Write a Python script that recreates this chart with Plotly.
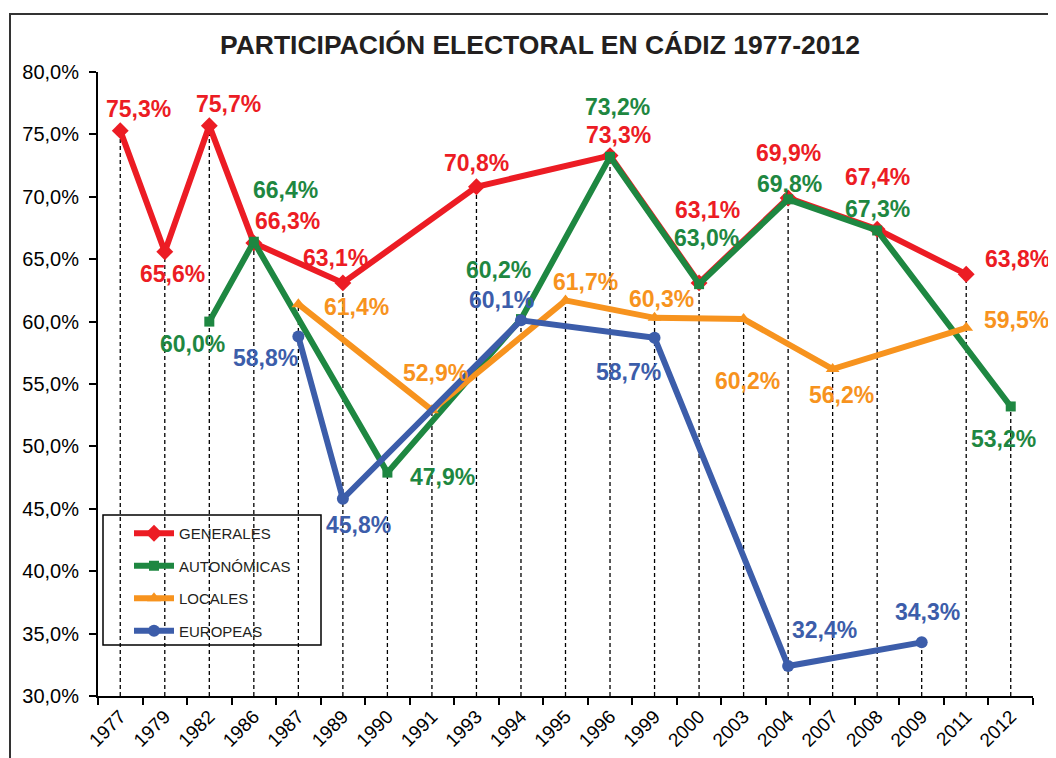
import plotly.graph_objects as go

# ---------------- data ----------------
years = ["1977", "1979", "1982", "1986", "1987", "1989", "1990", "1991", "1993", "1994",
         "1995", "1996", "1999", "2000", "2003", "2004", "2007", "2008", "2009", "2011", "2012"]
generales = [75.3, 65.6, 75.7, 66.3, None, 63.1, None, None, 70.8, None, None, 73.3, None, 63.1,
             None, 69.9, None, 67.4, None, 63.8, None]
autonomicas = [None, None, 60.0, 66.4, None, None, 47.9, None, None, 60.2, None, 73.2, None, 63.0,
               None, 69.8, None, 67.3, None, None, 53.2]
locales = [None, None, None, None, 61.4, None, None, 52.9, None, None, 61.7, None, 60.3, None,
           60.2, None, 56.2, None, None, 59.5, None]
europeas = [None, None, None, None, 58.8, 45.8, None, None, None, 60.1, None, None, 58.7, None,
            None, 32.4, None, None, 34.3, None, None]
y_ticks = [30, 35, 40, 45, 50, 55, 60, 65, 70, 75, 80]
title = "PARTICIPACIÓN ELECTORAL EN CÁDIZ 1977-2012"

# ---------------- styling ----------------
FONT = "Liberation Sans, Arial, sans-serif"
RED, GREEN, ORANGE, BLUE = "#EC1C24", "#1E8741", "#F7931E", "#3C5DAA"
OFF = 8  # page body margin
PL, PR, PT, PB = 98, 1033, 72, 696  # plot area in page px
PW, PH = PR - PL, PB - PT


def px_x(p):
    return (p - PL) / PW


def px_y(p):
    return (PB - p) / PH


# label offsets (xshift, yshift) in px
gen_off = {"1977": (18, 22), "1979": (8, -22), "1982": (19, 22), "1986": (34, 22), "1989": (-7, 25),
           "1993": (0, 24), "1996": (8, 21), "2000": (8, 73), "2004": (0, 45), "2008": (0, 52),
           "2011": (51, 15)}
aut_off = {"1982": (-17, -22), "1986": (32, 52), "1990": (55, -4), "1994": (-22, 49),
           "1996": (7, 50), "2000": (7, 46), "2004": (1, 15), "2008": (0, 22), "2012": (-7, -33)}
loc_off = {"1987": (58, -3), "1991": (4, 37), "1995": (20, 18), "1999": (7, 19),
           "2003": (4, -62), "2007": (9, -26), "2011": (50, 8)}
eur_off = {"1987": (-33, -21), "1989": (16, -26), "1994": (-19, 20), "1999": (-26, -34),
           "2004": (36, 36), "2009": (6, 30)}

series = [
    ("GENERALES", generales, RED, "diamond", 13, gen_off),
    ("AUTONÓMICAS", autonomicas, GREEN, "square", 10, aut_off),
    ("LOCALES", locales, ORANGE, "triangle-up", 12, loc_off),
    ("EUROPEAS", europeas, BLUE, "circle", 12, eur_off),
]

fig = go.Figure()

# drop lines (category index positions)
shapes = []
for i, yr in enumerate(years):
    vals = [s[1][i] for s in series if s[1][i] is not None]
    if vals:
        shapes.append(dict(type="line", xref="x", yref="y", x0=i, x1=i, y0=30, y1=max(vals),
                           line=dict(color="black", width=1.3, dash="4px,3px"), layer="below"))

# legend box
shapes.append(dict(type="rect", xref="paper", yref="paper",
                   x0=px_x(103), x1=px_x(321), y0=px_y(645), y1=px_y(515),
                   line=dict(color="black", width=1.5), fillcolor="white", layer="below"))

# outer border
shapes.append(dict(type="rect", xref="paper", yref="paper",
                   x0=px_x(10), x1=px_x(1070), y0=px_y(780), y1=px_y(14),
                   line=dict(color="#333333", width=2), fillcolor="rgba(0,0,0,0)", layer="below"))

annotations = []
for k, (name, vals, color, sym, msize, offs) in enumerate(series):
    fig.add_trace(go.Scatter(
        x=years, y=vals, name=name, mode="lines+markers", connectgaps=True,
        line=dict(color=color, width=6),
        marker=dict(symbol=sym, size=msize, color=color),
        legendgroup=name,
    ))
    for i, (yr, v) in enumerate(zip(years, vals)):
        if v is None:
            continue
        dx, dy = offs.get(yr, (0, 20))
        annotations.append(dict(
            x=i, y=v, xref="x", yref="y", text="<b>" + f"{v:.1f}".replace(".", ",") + "%</b>",
            showarrow=False, xshift=dx, yshift=dy,
            font=dict(family=FONT, size=23, color=color),
        ))

fig.update_layout(
    width=1056 - OFF, height=758 - OFF,
    margin=dict(l=PL - OFF, r=1056 - PR, t=PT - OFF, b=758 - PB, autoexpand=False),
    paper_bgcolor="white", plot_bgcolor="white",
    title=dict(text=f"<b>{title}</b>", x=(540 - OFF) / (1056 - OFF), y=1 - (45 - OFF) / (758 - OFF),
               xanchor="center", yanchor="middle",
               font=dict(family=FONT, size=26.5, color="#231F20")),
    shapes=shapes, annotations=annotations,
    legend=dict(x=px_x(129), y=px_y(517), xanchor="left", yanchor="top",
                borderwidth=0, bgcolor="rgba(0,0,0,0)",
                font=dict(family=FONT, size=15, color="#231F20"),
                tracegroupgap=10, itemwidth=40),
    showlegend=True,
)
fig.update_xaxes(type="category", categoryorder="array", categoryarray=years,
                 tickson="boundaries", ticks="outside", ticklen=7, tickcolor="black", tickwidth=2,
                 showline=True, linecolor="black", linewidth=2, showgrid=False, zeroline=False,
                 tickangle=-45, tickfont=dict(family=FONT, size=19, color="black"),
                 automargin=False, range=[-0.5, len(years) - 0.5])
fig.update_yaxes(range=[30, 80], tickvals=y_ticks,
                 ticktext=[f"{t:.1f}".replace(".", ",") + "%" for t in y_ticks],
                 ticks="outside", ticklen=7, tickcolor="black", tickwidth=2,
                 showline=True, linecolor="black", linewidth=2, showgrid=False, zeroline=False,
                 ticklabelstandoff=6, automargin=False,
                 tickfont=dict(family=FONT, size=20, color="black"))

fig.write_html("out.html")
